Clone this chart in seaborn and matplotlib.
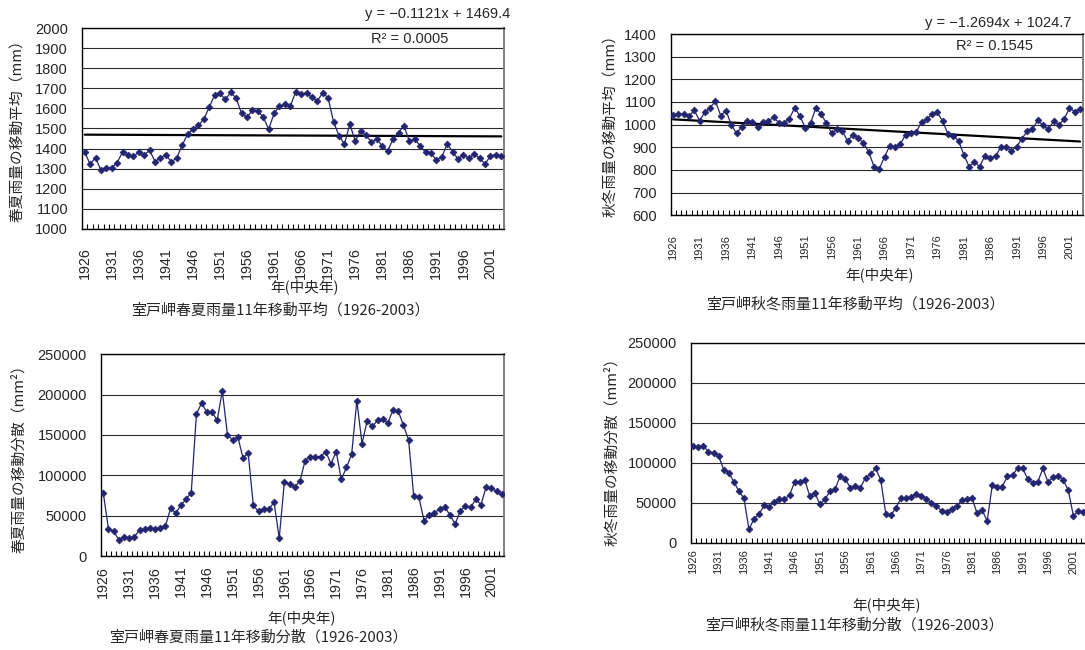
import numpy as np
import pandas as pd
import matplotlib
matplotlib.use("Agg")
import matplotlib.pyplot as plt
import seaborn as sns
from matplotlib import font_manager
from matplotlib.ticker import FixedLocator

# ---------------------------------------------------------------
# Data: 11-year moving statistics of rainfall at Cape Muroto
# ---------------------------------------------------------------
YEARS = list(range(1926, 2004))          # centre year of each 11-year window
XTICK_YEARS = YEARS[::5]                 # 1926, 1931, ..., 2001

# spring-summer rainfall, 11-year moving mean (mm)
SPRING_MEAN = [
    1384, 1321, 1355, 1291, 1305, 1305, 1330, 1383, 1368, 1361,
    1381, 1368, 1391, 1335, 1353, 1370, 1333, 1353, 1416, 1471,
    1496, 1515, 1546, 1605, 1666, 1675, 1645, 1680, 1651, 1575,
    1556, 1591, 1586, 1558, 1496, 1575, 1611, 1620, 1611, 1683,
    1671, 1678, 1655, 1638, 1678, 1652, 1532, 1465, 1422, 1522,
    1438, 1488, 1467, 1432, 1447, 1412, 1388, 1448, 1480, 1513,
    1438, 1448, 1412, 1382, 1378, 1342, 1358, 1422, 1385, 1347,
    1370, 1352, 1373, 1352, 1323, 1363, 1370, 1362,
]

# autumn-winter rainfall, 11-year moving mean (mm)
AUTUMN_MEAN = [
    1041, 1046, 1046, 1038, 1063, 1018, 1054, 1074, 1104, 1040,
    1062, 999, 962, 991, 1015, 1012, 991, 1012, 1015, 1032,
    1009, 1009, 1026, 1075, 1037, 987, 1006, 1074, 1046, 1007,
    962, 979, 972, 928, 954, 943, 918, 881, 815, 804,
    859, 906, 900, 915, 956, 962, 966, 1013, 1024, 1046,
    1054, 1015, 960, 950, 929, 868, 815, 835, 815, 863,
    853, 860, 901, 901, 885, 903, 938, 971, 981, 1019,
    997, 979, 1015, 1000, 1024, 1074, 1057, 1068,
]

# spring-summer rainfall, 11-year moving variance (mm^2)
SPRING_VAR = [
    78000, 33500, 31000, 20000, 23800, 22500, 23800, 32000, 33500, 34400,
    33000, 35300, 37000, 58900, 53500, 62600, 70500, 78400, 175900, 189600,
    178000, 178800, 168000, 204500, 150200, 144000, 147700, 121600, 127400, 62700,
    55200, 57700, 57700, 66800, 22000, 92100, 88800, 85900, 92500, 118200,
    123200, 123200, 123200, 129400, 114100, 129400, 95000, 109900, 126100, 192500,
    139400, 167600, 160600, 168000, 169300, 165100, 181300, 179700, 162200, 144000,
    73900, 72600, 43600, 50600, 53500, 58100, 61000, 50600, 39800, 56000,
    61800, 60200, 70500, 63500, 85900, 84200, 80100, 76800,
]

# autumn-winter rainfall, 11-year moving variance (mm^2)
AUTUMN_VAR = [
    120800, 119200, 120800, 113800, 112500, 108800, 91300, 87500, 76300, 64600,
    55400, 16700, 30000, 35800, 46700, 45000, 50400, 54200, 54200, 59600,
    75800, 75800, 78300, 58300, 62500, 47900, 54200, 64600, 67100, 83300,
    79600, 68800, 70400, 68800, 81300, 85400, 92900, 78300, 35800, 34200,
    43800, 55400, 55400, 57500, 60800, 58300, 55000, 49200, 46300, 39600,
    38300, 41700, 45800, 53300, 54200, 56300, 36700, 40800, 27100, 71700,
    70000, 70000, 83300, 84600, 92900, 92900, 79600, 75000, 76300, 92900,
    75800, 81700, 83800, 78300, 65800, 33800, 39200, 38300,
]

# linear trend lines (x = 1, 2, ... over the series) and their R^2
SPRING_TREND = (-0.1121, 1469.4)
SPRING_R2 = "0.0005"
AUTUMN_TREND = (-1.2694, 1024.7)
AUTUMN_R2 = "0.1545"

# ---------------------------------------------------------------
# Style
# ---------------------------------------------------------------
sns.set_style("white")
plt.rcParams["font.family"] = ["Liberation Sans", "Noto Sans CJK JP", "DejaVu Sans"]
JP = ["Noto Sans CJK JP", "DejaVu Sans"]
NUM = ["Liberation Sans", "DejaVu Sans"]

available = {f.name for f in font_manager.fontManager.ttflist}
if "Liberation Sans Narrow" in available:
    NARROW, NARROW_SIZE = ["Liberation Sans Narrow", "DejaVu Sans"], 8.7
else:
    NARROW, NARROW_SIZE = NUM, 8.0

NAVY = "#23236f"
GRID = "#2a2a2a"

W, H = 1085, 650
fig = plt.figure(figsize=(W / 100, H / 100), dpi=100)
fig.patch.set_facecolor("white")


def px_rect(x0, y0, x1, y1):
    """Axes rectangle from pixel corners (top-left origin)."""
    return [x0 / W, 1 - y1 / H, (x1 - x0) / W, (y1 - y0) / H]


def ftext(x, y, s, **kw):
    fig.text(x / W, 1 - y / H, s, **kw)


def panel(rect, values, ylim, ystep, xt_font, xt_size, xt_pad, trend=None):
    ax = fig.add_axes(rect)
    df = pd.DataFrame({"year": YEARS, "value": values})
    if trend is not None:
        slope, icpt = trend
        n = np.arange(1, len(YEARS) + 1)
        tdf = pd.DataFrame({"year": YEARS, "value": slope * n + icpt})
        sns.lineplot(data=tdf, x="year", y="value", ax=ax, color="black",
                     lw=1.6, errorbar=None, zorder=2)
    sns.lineplot(data=df, x="year", y="value", ax=ax, color=NAVY, lw=0.9,
                 marker="D", markersize=3.5, markeredgecolor=NAVY,
                 markeredgewidth=0.5, errorbar=None, zorder=3)
    ax.set_xlabel("")
    ax.set_ylabel("")

    ax.set_xlim(YEARS[0] - 0.5, YEARS[-1] + 0.5)
    ax.set_ylim(*ylim)
    yt = np.arange(ylim[0], ylim[1] + 1, ystep)
    ax.set_yticks(yt, labels=[str(int(v)) for v in yt])
    ax.yaxis.grid(True, color=GRID, lw=0.8)
    ax.xaxis.grid(False)
    ax.set_axisbelow(True)

    ax.xaxis.set_major_locator(FixedLocator(XTICK_YEARS))
    ax.set_xticklabels([str(y) for y in XTICK_YEARS])
    ax.xaxis.set_minor_locator(FixedLocator(np.arange(YEARS[0] - 0.5, YEARS[-1] + 1, 1.0)))
    ax.tick_params(axis="x", which="major", length=0, pad=xt_pad,
                   labelrotation=90, labelsize=xt_size)
    ax.tick_params(axis="x", which="minor", direction="in", length=3.4,
                   width=0.8, color="black", bottom=True)
    ax.tick_params(axis="y", length=0, pad=10, labelsize=10.5)
    for lab in ax.get_xticklabels():
        lab.set_family(xt_font)
    for lab in ax.get_yticklabels():
        lab.set_family(NUM)

    for side in ("left", "bottom", "top"):
        ax.spines[side].set_color("black")
        ax.spines[side].set_linewidth(1.0)
    ax.spines["right"].set_color("#808080")
    ax.spines["right"].set_linewidth(1.4)
    return ax


# --- top left: spring-summer moving mean
panel(px_rect(82, 28.3, 504, 228.7), SPRING_MEAN, (1000, 2000), 100,
      NUM, 10.3, 13, trend=SPRING_TREND)
ftext(510, 14, f"y = \u2212{abs(SPRING_TREND[0]):.4f}x + {SPRING_TREND[1]:.1f}",
      ha="right", va="center", fontsize=10.5, family=NUM)
ftext(410, 39, f"R\u00b2 = {SPRING_R2}", ha="center", va="center",
      fontsize=10.5, family=NUM)
ftext(18, 127, "春夏雨量の移動平均（mm）", rotation=90, ha="center",
      va="center", fontsize=10.6, family=JP)
ftext(305, 287, "年(中央年)", ha="center", va="center", fontsize=10.5, family=JP)
ftext(280, 310, "室戸岬春夏雨量11年移動平均（1926-2003）", ha="center",
      va="center", fontsize=10.8, family=JP)

# --- top right: autumn-winter moving mean
panel(px_rect(670.5, 34, 1082.7, 215.3), AUTUMN_MEAN, (600, 1400), 100,
      NARROW, NARROW_SIZE, 14, trend=AUTUMN_TREND)
ftext(1071, 23, f"y = \u2212{abs(AUTUMN_TREND[0]):.4f}x + {AUTUMN_TREND[1]:.1f}",
      ha="right", va="center", fontsize=10.5, family=NUM)
ftext(995, 46, f"R\u00b2 = {AUTUMN_R2}", ha="center", va="center",
      fontsize=10.5, family=NUM)
ftext(611, 122, "秋冬雨量の移動平均（mm）", rotation=90, ha="center",
      va="center", fontsize=10.6, family=JP)
ftext(880, 275, "年(中央年)", ha="center", va="center", fontsize=10.5, family=JP)
ftext(855, 304, "室戸岬秋冬雨量11年移動平均（1926-2003）", ha="center",
      va="center", fontsize=10.8, family=JP)

# --- bottom left: spring-summer moving variance
panel(px_rect(100.7, 354.3, 504.3, 556), SPRING_VAR, (0, 250000), 50000,
      NUM, 10.3, 7)
ftext(19, 455, "春夏雨量の移動分散（mm²）", rotation=90, ha="center",
      va="center", fontsize=10.6, family=JP)
ftext(302, 618, "年(中央年)", ha="center", va="center", fontsize=10.5, family=JP)
ftext(258, 637, "室戸岬春夏雨量11年移動分散（1926-2003）", ha="center",
      va="center", fontsize=10.8, family=JP)

# --- bottom right: autumn-winter moving variance
panel(px_rect(690.7, 342.7, 1086, 542.7), AUTUMN_VAR, (0, 250000), 50000,
      NARROW, NARROW_SIZE, 4.6)
ftext(612, 448, "秋冬雨量の移動分散（mm²）", rotation=90, ha="center",
      va="center", fontsize=10.6, family=JP)
ftext(887, 605, "年(中央年)", ha="center", va="center", fontsize=10.5, family=JP)
ftext(854, 625, "室戸岬秋冬雨量11年移動分散（1926-2003）", ha="center",
      va="center", fontsize=10.8, family=JP)

fig.savefig("out.png", dpi=100, facecolor="white")
